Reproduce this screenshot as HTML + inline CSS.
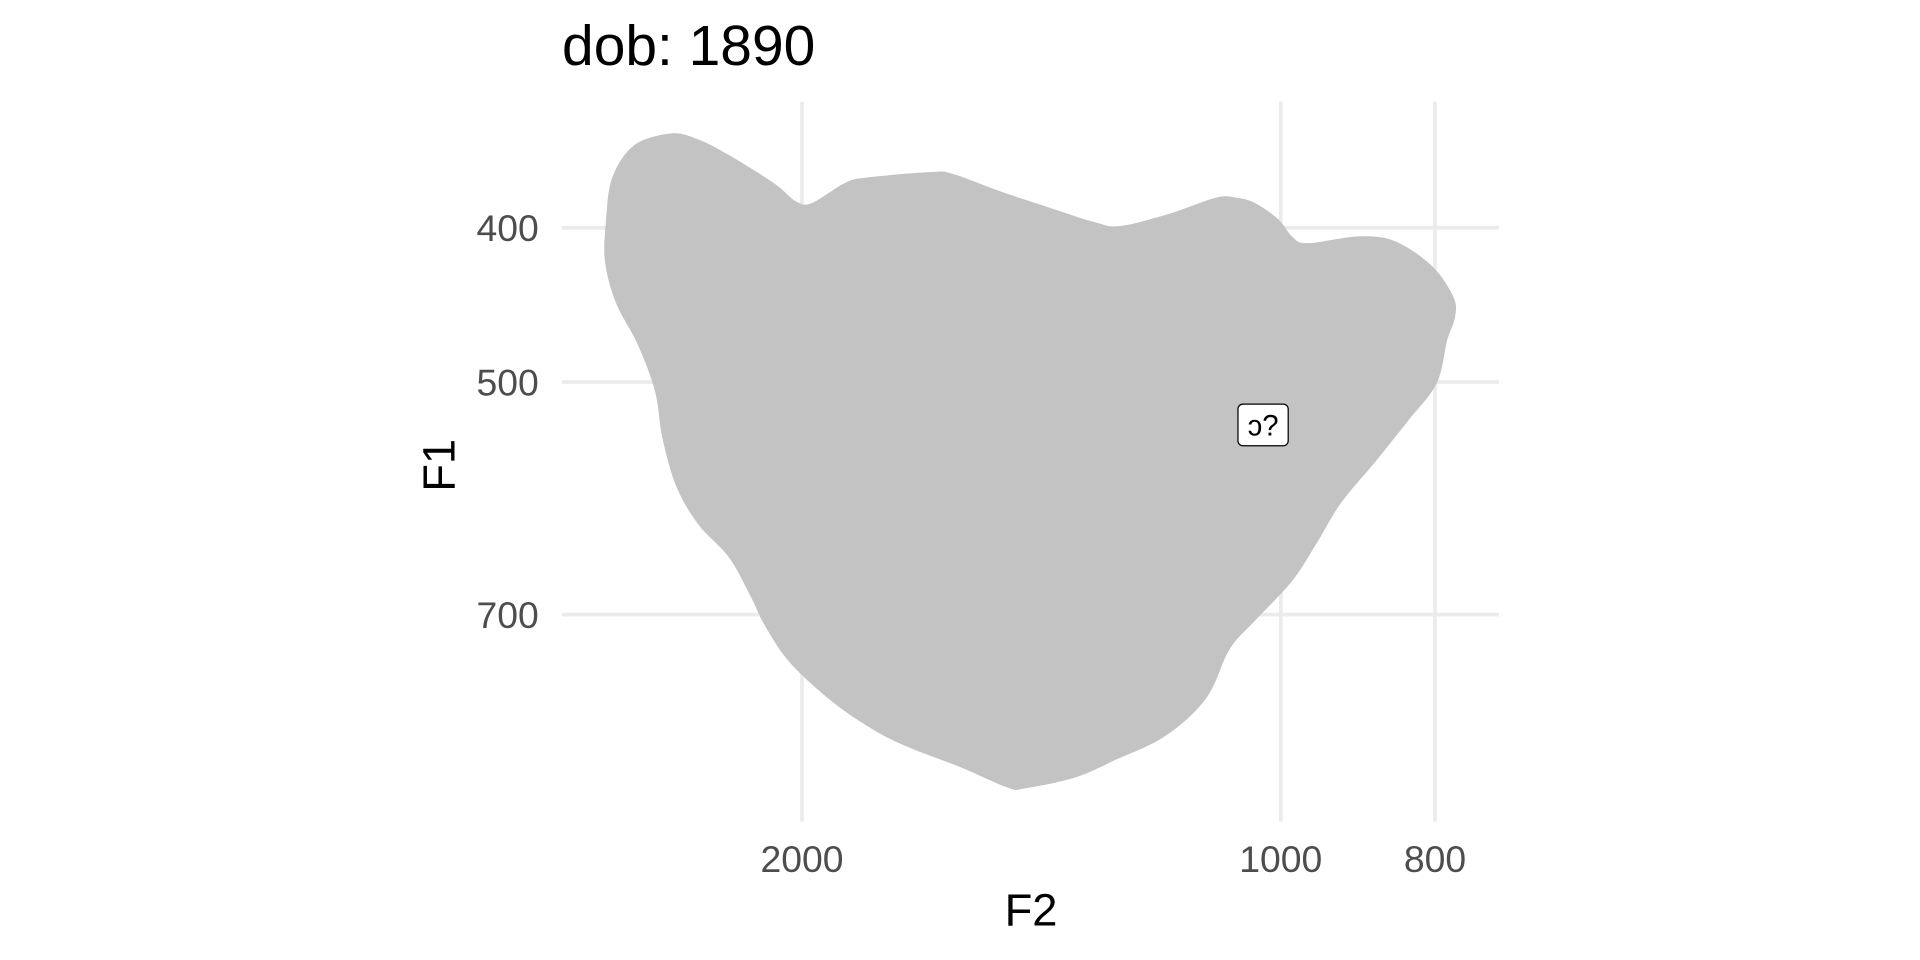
<!DOCTYPE html>
<html><head><meta charset="utf-8"><style>
html,body{margin:0;padding:0;background:#fff;}
svg{display:block;font-family:"Liberation Sans",Arial,sans-serif;}
</style></head><body>
<svg id="chart" width="1920" height="960" viewBox="0 0 1568 784" xmlns="http://www.w3.org/2000/svg">
<rect width="1568" height="784" fill="#fff"/>
<g id="grid"></g>
<g id="shape"></g>
<g id="labels"></g>
<g id="ticks"></g>
<text x="459" y="53" font-size="46.5" fill="#000">dob: 1890</text>
<text x="842" y="756" font-size="37" text-anchor="middle" fill="#000">F2</text>
<text transform="translate(371,380) rotate(-90)" font-size="37" text-anchor="middle" fill="#000">F1</text>
</svg>
<script>
const f2Values=[2418,2550,2632,2656,2660,2618,2536,2474,2448,2400,2325,2224,2154,2109,2036,1920,1821,1729,1594,1485,1448,1347,1268,1181,1114,1077,1038,984,950,917,872,832,798,786,777,779,803,847,893,962,984,1004,1038,1066,1099,1175,1261,1307,1415,1506,1608,1660,1821,1880,1972,2018,2083,2224,2325];
const f1Values=[349,355,372,396,420,446,474,507,542,581,614,644,682,712,750,792,822,845,872,899,900,886,863,834,790,736,706,667,632,596,561,529,501,471,455,442,423,408,405,409,405,395,386,383,383,392,399,397,387,379,370,369,372,375,386,385,375,360,352];
const xTicks=[2000,1000,800];
const yTicks=[400,500,700];
const vowelLabels=["ɔ?"];
const labelF2=[1026];
const labelF1=[532];

const NS="http://www.w3.org/2000/svg";
const K=1299;
function xScale(v){return 1046-K*(Math.log10(v)-3);}
function yScale(v){return 186+1300*(Math.log10(v)-Math.log10(400));}
function mk(tag,attrs,parent){const e=document.createElementNS(NS,tag);for(const k in attrs)e.setAttribute(k,attrs[k]);parent.appendChild(e);return e;}

const grid=document.getElementById('grid');
const ticks=document.getElementById('ticks');
xTicks.forEach(t=>{
  const x=xScale(t);
  const l=mk('line',{x1:x,x2:x,y1:83,y2:671,stroke:'#ebebeb','stroke-width':3},grid);
  
  
  const tx=mk('text',{x:x,y:712,'font-size':30.5,'text-anchor':'middle',fill:'#4d4d4d'},ticks);
  tx.textContent=t;
  
  
});
yTicks.forEach(t=>{
  const y=yScale(t);
  const l=mk('line',{x1:459,x2:1224,y1:y,y2:y,stroke:'#ebebeb','stroke-width':3},grid);
  
  
  const tx=mk('text',{x:440,y:y+11,'font-size':30.5,'text-anchor':'end',fill:'#4d4d4d'},ticks);
  tx.textContent=t;
  
  
});

const shape=document.getElementById('shape');
const P=f2Values.map((v,i)=>[xScale(v),yScale(f1Values[i])]);
const n=P.length;
let d='M'+P[0][0].toFixed(1)+','+P[0][1].toFixed(1);
for(let i=0;i<n;i++){
  const p0=P[(i-1+n)%n],p1=P[i],p2=P[(i+1)%n],p3=P[(i+2)%n];
  const c1=[p1[0]+(p2[0]-p0[0])/6,p1[1]+(p2[1]-p0[1])/6];
  const c2=[p2[0]-(p3[0]-p1[0])/6,p2[1]-(p3[1]-p1[1])/6];
  d+=' C'+c1[0].toFixed(1)+','+c1[1].toFixed(1)+' '+c2[0].toFixed(1)+','+c2[1].toFixed(1)+' '+p2[0].toFixed(1)+','+p2[1].toFixed(1);
}
d+='Z';
const poly=mk('path',{d:d,fill:'#c3c3c3',stroke:'none'},shape);



const labels=document.getElementById('labels');
vowelLabels.forEach((s,i)=>{
  const cx=xScale(labelF2[i]),cy=yScale(labelF1[i]);
  const g=mk('g',{},labels);
  
  
  mk('rect',{x:cx-20.5,y:cy-17,width:41,height:34,rx:4,fill:'#fff',stroke:'#000','stroke-width':1},g);
  const t=mk('text',{x:cx,y:cy+8.5,'font-size':24,'text-anchor':'middle',fill:'#000'},g);
  t.textContent=s;
});
</script>
</body></html>
